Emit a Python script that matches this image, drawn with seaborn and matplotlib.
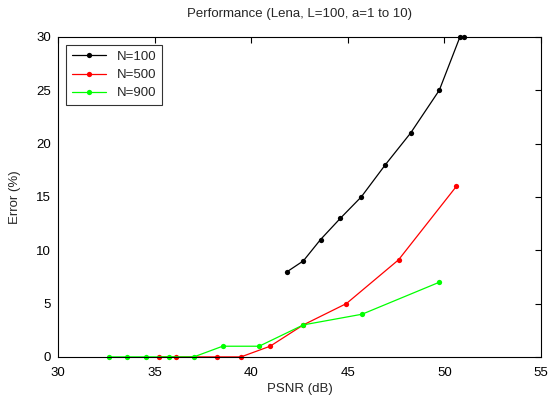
import numpy as np
import pandas as pd
import matplotlib
matplotlib.use("Agg")
import matplotlib.pyplot as plt
import seaborn as sns

# values
psnr_n100 = [41.87, 42.70, 43.59, 44.62, 45.70, 46.94, 48.26, 49.74, 50.81, 51.03]
err_n100 = [8, 9, 11, 13, 15, 18, 21, 25, 30, 30]

psnr_n500 = [35.21, 36.11, 38.23, 39.47, 40.98, 42.70, 44.93, 47.63, 50.63]
err_n500 = [0, 0, 0, 0, 1, 3, 5, 9.1, 16]

psnr_n900 = [32.64, 33.57, 34.57, 35.72, 37.03, 38.52, 40.41, 42.70, 45.74, 49.74]
err_n900 = [0, 0, 0, 0, 0, 1, 1, 3, 4, 7]

series_names = ["N=100", "N=500", "N=900"]
series_colors = {"N=100": "black", "N=500": "#ff0000", "N=900": "#00ff00"}

df = pd.concat([
    pd.DataFrame({"PSNR": psnr_n100, "Error": err_n100, "N": "N=100"}),
    pd.DataFrame({"PSNR": psnr_n500, "Error": err_n500, "N": "N=500"}),
    pd.DataFrame({"PSNR": psnr_n900, "Error": err_n900, "N": "N=900"}),
], ignore_index=True)

sns.set_style("white")
plt.rcParams["font.family"] = ["Liberation Sans", "DejaVu Sans"]
plt.rcParams["font.size"] = 9.5

fig = plt.figure(figsize=(5.48, 4.01), dpi=100)
ax = fig.add_axes([0.106, 0.110, 0.881, 0.798])

sns.lineplot(data=df, x="PSNR", y="Error", hue="N", hue_order=series_names,
             palette=series_colors, estimator=None, sort=False,
             marker="o", markersize=3.8, markeredgewidth=0, linewidth=0.9,
             ax=ax, clip_on=False)

ax.set_xlim(30, 55)
ax.set_ylim(0, 30)
ax.set_xticks(np.arange(30, 56, 5))
ax.set_yticks(np.arange(0, 31, 5))
ax.tick_params(direction="in", top=True, right=True, length=4, width=0.8,
               colors="black", labelsize=9.5)
ax.tick_params(axis="x", pad=7)
ax.tick_params(axis="y", pad=5)
for sp in ax.spines.values():
    sp.set_color("black")
    sp.set_linewidth(0.8)

ax.set_title("Performance (Lena, L=100, a=1 to 10)", fontsize=9.5, pad=14)
ax.set_xlabel("PSNR (dB)", fontsize=9.5, labelpad=3)
ax.set_ylabel("Error (%)", fontsize=9.5, labelpad=11)

leg = ax.legend(loc="upper left", frameon=True, fancybox=False, fontsize=9.5,
                handlelength=2.6, borderaxespad=0.6, labelspacing=0.45,
                handletextpad=0.8, borderpad=0.45)
leg.get_frame().set_edgecolor("black")
leg.get_frame().set_linewidth(0.8)

fig.savefig("out.png", dpi=100)
